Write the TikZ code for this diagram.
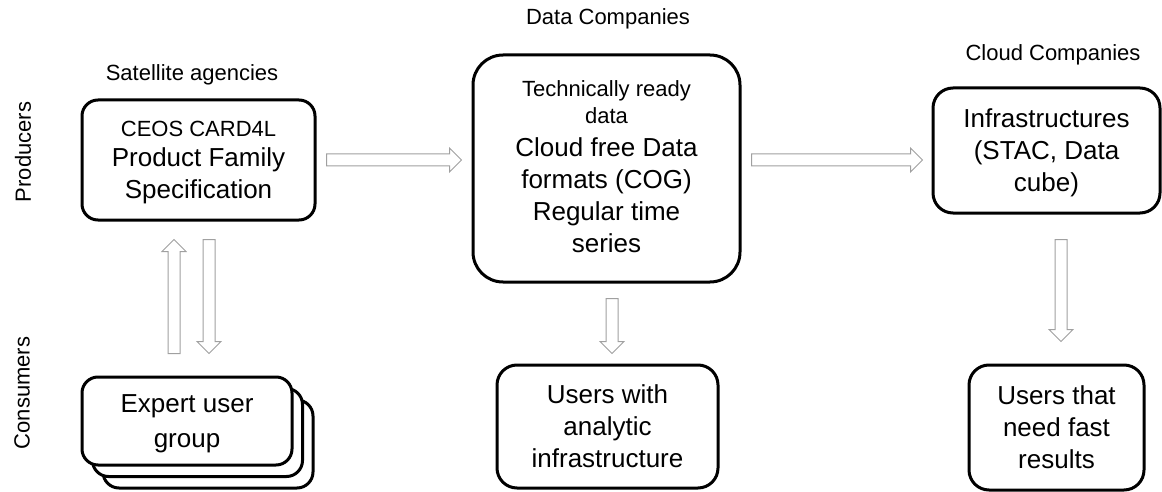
\documentclass[tikz,border=0pt]{standalone}
\usepackage{fontspec}
\setmainfont{Liberation Sans}
\usetikzlibrary{calc}
\definecolor{arrowgray}{RGB}{160,160,160}
\newcommand{\smallline}{\fontsize{22}{27}\selectfont}
\tikzset{
  box/.style={draw=black, line width=3pt, fill=white, rounded corners=#1,
    align=center, inner sep=0pt, font=\fontsize{26}{32}\selectfont},
  box/.default=16pt,
  heading/.style={font=\fontsize{22}{27}\selectfont, inner sep=0pt},
  % hollow block arrow from the start point to the target point
  hollow/.style={draw=arrowgray, fill=white, line width=1pt, line join=miter,
    to path={let \p1=(\tikztostart), \p2=(\tikztotarget),
      \n1={veclen(\x2-\x1,\y2-\y1)}, \n2={(\x2-\x1)/\n1}, \n3={(\y2-\y1)/\n1} in
      ({\x1-6*\n3},{\y1+6*\n2})
      -- ({\x2-12*\n2-6*\n3},{\y2-12*\n3+6*\n2})
      -- ({\x2-12*\n2-12*\n3},{\y2-12*\n3+12*\n2})
      -- (\p2)
      -- ({\x2-12*\n2+12*\n3},{\y2-12*\n3-12*\n2})
      -- ({\x2-12*\n2+6*\n3},{\y2-12*\n3-6*\n2})
      -- ({\x1+6*\n3},{\y1-6*\n2}) -- cycle}}
}
\begin{document}
\begin{tikzpicture}[x=1pt, y=-1pt]
\useasboundingbox (0,0) rectangle (1162,492);

% column headings and row labels
\node[heading] (hdata)  at (608,19)  {Data Companies};
\node[heading] (hsat)   at (192,75)  {Satellite agencies};
\node[heading] (hcloud) at (1053,55) {Cloud Companies};
\node[heading, rotate=90] (prod) at (23,152) {Producers};
\node[heading, rotate=90] (cons) at (22,393) {Consumers};

% producer boxes
\node[box, minimum width=233pt, minimum height=120pt, text depth=-2pt] (ceos) at (198.5,160)
  {{\smallline CEOS CARD4L}\\[-2pt] Product Family\\ Specification};
\node[box=30pt, minimum width=267pt, minimum height=227pt, text depth=4pt] (trd) at (606.5,168.5)
  {{\smallline Technically ready}\\[-5pt] {\smallline data}\\[1pt]
   Cloud free Data\\ formats (COG)\\ Regular time\\ series};
\node[box=20pt, minimum width=227pt, minimum height=125pt, text depth=-0.5pt] (infra) at (1046.5,150.5)
  {Infrastructures\\ (STAC, Data\\ cube)};

% consumer boxes (the expert group is a stack of three cards)
\node[box, minimum width=210pt, minimum height=88pt] (expertc) at (208,444) {};
\node[box, minimum width=210pt, minimum height=88pt] (expertb) at (197.5,432.5) {};
\node[box, minimum width=210pt, minimum height=88pt, text depth=-2.5pt] (expert) at (187,421)
  {Expert user\\[3pt] group};
\node[box=20pt, minimum width=221pt, minimum height=123pt] (usersA) at (607.5,426.5)
  {Users with\\ analytic\\ infrastructure};
\node[box=20pt, minimum width=175pt, minimum height=125pt] (usersB) at (1056.5,427.5)
  {Users that\\ need fast\\ results};

% flows
\draw[hollow] ($(ceos.east)+(10,0)$) to ($(ceos.east -| trd.west)+(-10,0)$);
\draw[hollow] ($(ceos.east -| trd.east)+(10,0)$) to ($(ceos.east -| infra.west)+(-9,0)$);
\draw[hollow] ($(expert.north)+(-13,-22)$) to ($(ceos.south)+(-24.5,18)$);
\draw[hollow] ($(ceos.south)+(10.5,18)$) to ($(expert.north)+(22,-22)$);
\draw[hollow] ($(trd.south)+(5.5,15)$) to ($(usersA.north)+(4.5,-10)$);
\draw[hollow] ($(infra.south)+(14.5,25)$) to ($(usersB.north)+(4.5,-22)$);
\end{tikzpicture}
\end{document}
